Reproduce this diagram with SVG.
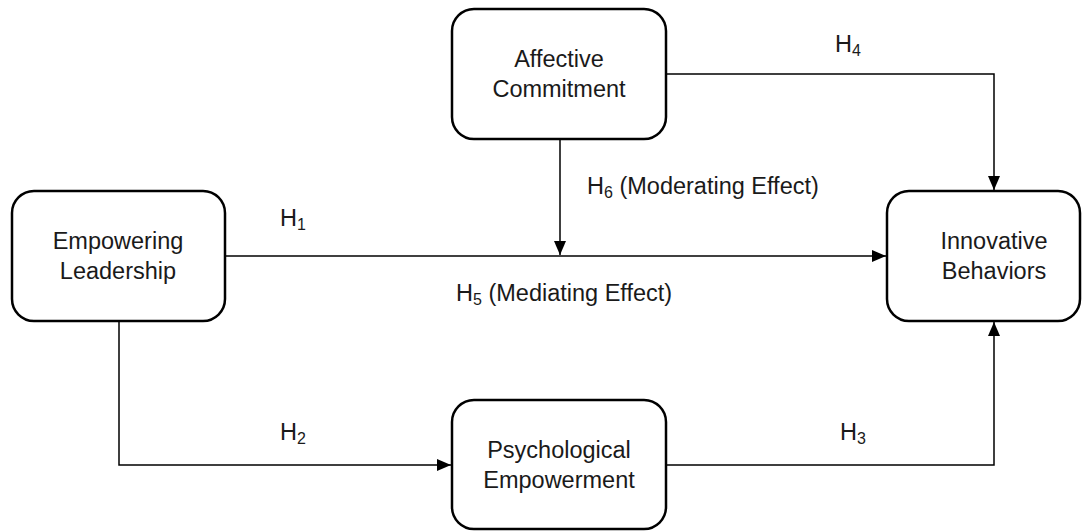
<svg xmlns="http://www.w3.org/2000/svg" width="1092" height="532" viewBox="0 0 1092 532">
<style>
.box{fill:#fff;stroke:#000;stroke-width:2.5}
.t{font-family:"Liberation Sans",Arial,sans-serif;font-size:23.5px;fill:#1a1a1a;text-anchor:middle}
.l{font-family:"Liberation Sans",Arial,sans-serif;font-size:23.5px;fill:#1a1a1a}
.c{fill:none;stroke:#000;stroke-width:1.5}
.s{font-size:16px}
</style>
<defs>
<marker id="ah" markerWidth="14" markerHeight="12" refX="14" refY="6" orient="auto" markerUnits="userSpaceOnUse">
<path d="M0,0 L14,6 L0,12 Z" fill="#000"/>
</marker>
</defs>
<rect width="1092" height="532" fill="#fff"/>
<g id="connectors">
<path class="c" d="M225,256 H886" marker-end="url(#ah)"/>
<path class="c" d="M560,139 V255" marker-end="url(#ah)"/>
<path class="c" d="M666,74 H994 V190" marker-end="url(#ah)"/>
<path class="c" d="M119,321 V465 H451" marker-end="url(#ah)"/>
<path class="c" d="M666,465 H994 V322" marker-end="url(#ah)"/>
</g>
<g id="labels">
<text class="l" x="280" y="226">H<tspan class="s" dy="4">1</tspan></text>
<text class="l" x="456" y="301">H<tspan class="s" dy="4">5</tspan><tspan dy="-4"> (Mediating Effect)</tspan></text>
<text class="l" x="587" y="194">H<tspan class="s" dy="4">6</tspan><tspan dy="-4"> (Moderating Effect)</tspan></text>
<text class="l" x="835" y="52">H<tspan class="s" dy="4">4</tspan></text>
<text class="l" x="280" y="440">H<tspan class="s" dy="4">2</tspan></text>
<text class="l" x="840" y="440">H<tspan class="s" dy="4">3</tspan></text>
</g>
<g id="affective">
<rect class="box" x="452" y="9" width="214" height="130" rx="22"/>
<text class="t" x="559" y="67">Affective</text>
<text class="t" x="559" y="97">Commitment</text>
</g>
<g id="empowering">
<rect class="box" x="12" y="191" width="213" height="130" rx="22"/>
<text class="t" x="118" y="249">Empowering</text>
<text class="t" x="118" y="279">Leadership</text>
</g>
<g id="innovative">
<rect class="box" x="887" y="191" width="193" height="130" rx="22"/>
<text class="t" x="994" y="249">Innovative</text>
<text class="t" x="994" y="279">Behaviors</text>
</g>
<g id="psychological">
<rect class="box" x="452" y="400" width="214" height="129" rx="22"/>
<text class="t" x="559" y="458">Psychological</text>
<text class="t" x="559" y="488">Empowerment</text>
</g>
</svg>
